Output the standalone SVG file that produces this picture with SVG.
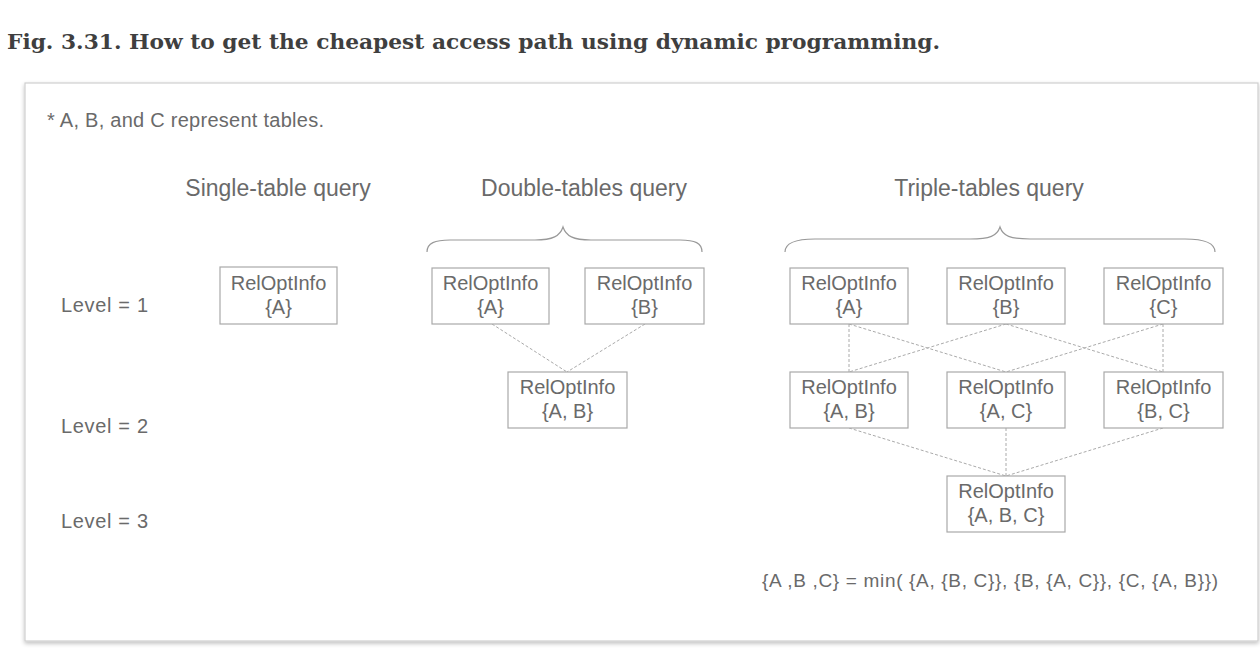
<svg xmlns="http://www.w3.org/2000/svg" width="1260" height="648" viewBox="0 0 1260 648">
<defs>
<style>
.t{font-family:"Liberation Sans","Noto Sans",Arial,sans-serif;fill:#6a6a6a;}
.box{fill:#fff;stroke:#a9a9a9;stroke-width:1.2;}
.lbl{font-size:20px;text-anchor:middle;}
.hd{font-size:23px;text-anchor:middle;}
.lv{font-size:20px;}
.con line{stroke:#aaa;stroke-width:1;stroke-dasharray:3 2;}
.brace{fill:none;stroke:#999;stroke-width:1.2;}
</style>
<filter id="sh" x="-2%" y="-2%" width="104%" height="106%">
<feGaussianBlur in="SourceAlpha" stdDeviation="2"/>
<feOffset dx="0" dy="2"/>
<feComponentTransfer><feFuncA type="linear" slope="0.25"/></feComponentTransfer>
<feMerge><feMergeNode/><feMergeNode in="SourceGraphic"/></feMerge>
</filter>
</defs>
<rect width="1260" height="648" fill="#fff"/>
<text x="7" y="49" font-family="'DejaVu Serif','Liberation Serif',serif" font-weight="bold" font-size="20" fill="#3f3f3f" textLength="933" lengthAdjust="spacingAndGlyphs">Fig. 3.31. How to get the cheapest access path using dynamic programming.</text>
<g id="panel">
<rect x="25" y="83" width="1233" height="558" fill="#fff" stroke="#cfcfcf" stroke-width="1.2" filter="url(#sh)"/>
</g>
<text class="t" x="47" y="127" font-size="20" textLength="277" lengthAdjust="spacing">* A, B, and C represent tables.</text>
<g id="headings">
<text class="t hd" x="278" y="196">Single-table query</text>
<text class="t hd" x="584" y="196">Double-tables query</text>
<text class="t hd" x="989" y="196">Triple-tables query</text>
</g>
<g id="levels">
<text class="t lv" x="61" y="312" textLength="87" lengthAdjust="spacing">Level = 1</text>
<text class="t lv" x="61" y="433" textLength="87" lengthAdjust="spacing">Level = 2</text>
<text class="t lv" x="61" y="528" textLength="87" lengthAdjust="spacing">Level = 3</text>
</g>
<g id="braces">
<path class="brace" d="M427,252 C427,243 435,240 450,240 L535,240 C553,240 560,236 563,227 C566,236 573,240 591,240 L680,240 C695,240 702,243 702,252"/>
<path class="brace" d="M785,252 C785,243 795,239 815,239 L970,239 C990,239 997,236 1000,227 C1003,236 1010,239 1030,239 L1185,239 C1205,239 1215,243 1215,252"/>
</g>
<g id="connectors" class="con">
<line x1="492" y1="324" x2="567" y2="372"/>
<line x1="645" y1="324" x2="567" y2="372"/>
<line x1="849" y1="324" x2="849" y2="372"/>
<line x1="849" y1="324" x2="1006" y2="372"/>
<line x1="1006" y1="324" x2="849" y2="372"/>
<line x1="1006" y1="324" x2="1163" y2="372"/>
<line x1="1163" y1="324" x2="1006" y2="372"/>
<line x1="1163" y1="324" x2="1163" y2="372"/>
<line x1="849" y1="428" x2="1006" y2="476"/>
<line x1="1006" y1="428" x2="1006" y2="476"/>
<line x1="1163" y1="428" x2="1006" y2="476"/>
</g>
<g id="s-A"><rect class="box" x="220" y="267" width="117" height="57"/><text class="t lbl" x="278.5" y="290">RelOptInfo</text><text class="t lbl" x="278.5" y="314">{A}</text></g>
<g id="d-A"><rect class="box" x="432" y="268" width="117" height="56"/><text class="t lbl" x="490.5" y="290">RelOptInfo</text><text class="t lbl" x="490.5" y="314">{A}</text></g>
<g id="d-B"><rect class="box" x="585" y="268" width="119" height="56"/><text class="t lbl" x="644.5" y="290">RelOptInfo</text><text class="t lbl" x="644.5" y="314">{B}</text></g>
<g id="d-AB"><rect class="box" x="508" y="372" width="119" height="56"/><text class="t lbl" x="567.5" y="394">RelOptInfo</text><text class="t lbl" x="567.5" y="418">{A, B}</text></g>
<g id="t-A"><rect class="box" x="790" y="268" width="118" height="56"/><text class="t lbl" x="849" y="290">RelOptInfo</text><text class="t lbl" x="849" y="314">{A}</text></g>
<g id="t-B"><rect class="box" x="947" y="268" width="118" height="56"/><text class="t lbl" x="1006" y="290">RelOptInfo</text><text class="t lbl" x="1006" y="314">{B}</text></g>
<g id="t-C"><rect class="box" x="1104" y="268" width="119" height="56"/><text class="t lbl" x="1163.5" y="290">RelOptInfo</text><text class="t lbl" x="1163.5" y="314">{C}</text></g>
<g id="t-AB"><rect class="box" x="790" y="372" width="118" height="56"/><text class="t lbl" x="849" y="394">RelOptInfo</text><text class="t lbl" x="849" y="418">{A, B}</text></g>
<g id="t-AC"><rect class="box" x="947" y="372" width="118" height="56"/><text class="t lbl" x="1006" y="394">RelOptInfo</text><text class="t lbl" x="1006" y="418">{A, C}</text></g>
<g id="t-BC"><rect class="box" x="1104" y="372" width="119" height="56"/><text class="t lbl" x="1163.5" y="394">RelOptInfo</text><text class="t lbl" x="1163.5" y="418">{B, C}</text></g>
<g id="t-ABC"><rect class="box" x="947" y="476" width="118" height="56"/><text class="t lbl" x="1006" y="498">RelOptInfo</text><text class="t lbl" x="1006" y="522">{A, B, C}</text></g>
<text class="t" x="762" y="587" font-size="19" textLength="456" lengthAdjust="spacing">{A ,B ,C} = min( {A, {B, C}}, {B, {A, C}}, {C, {A, B}})</text>
</svg>
